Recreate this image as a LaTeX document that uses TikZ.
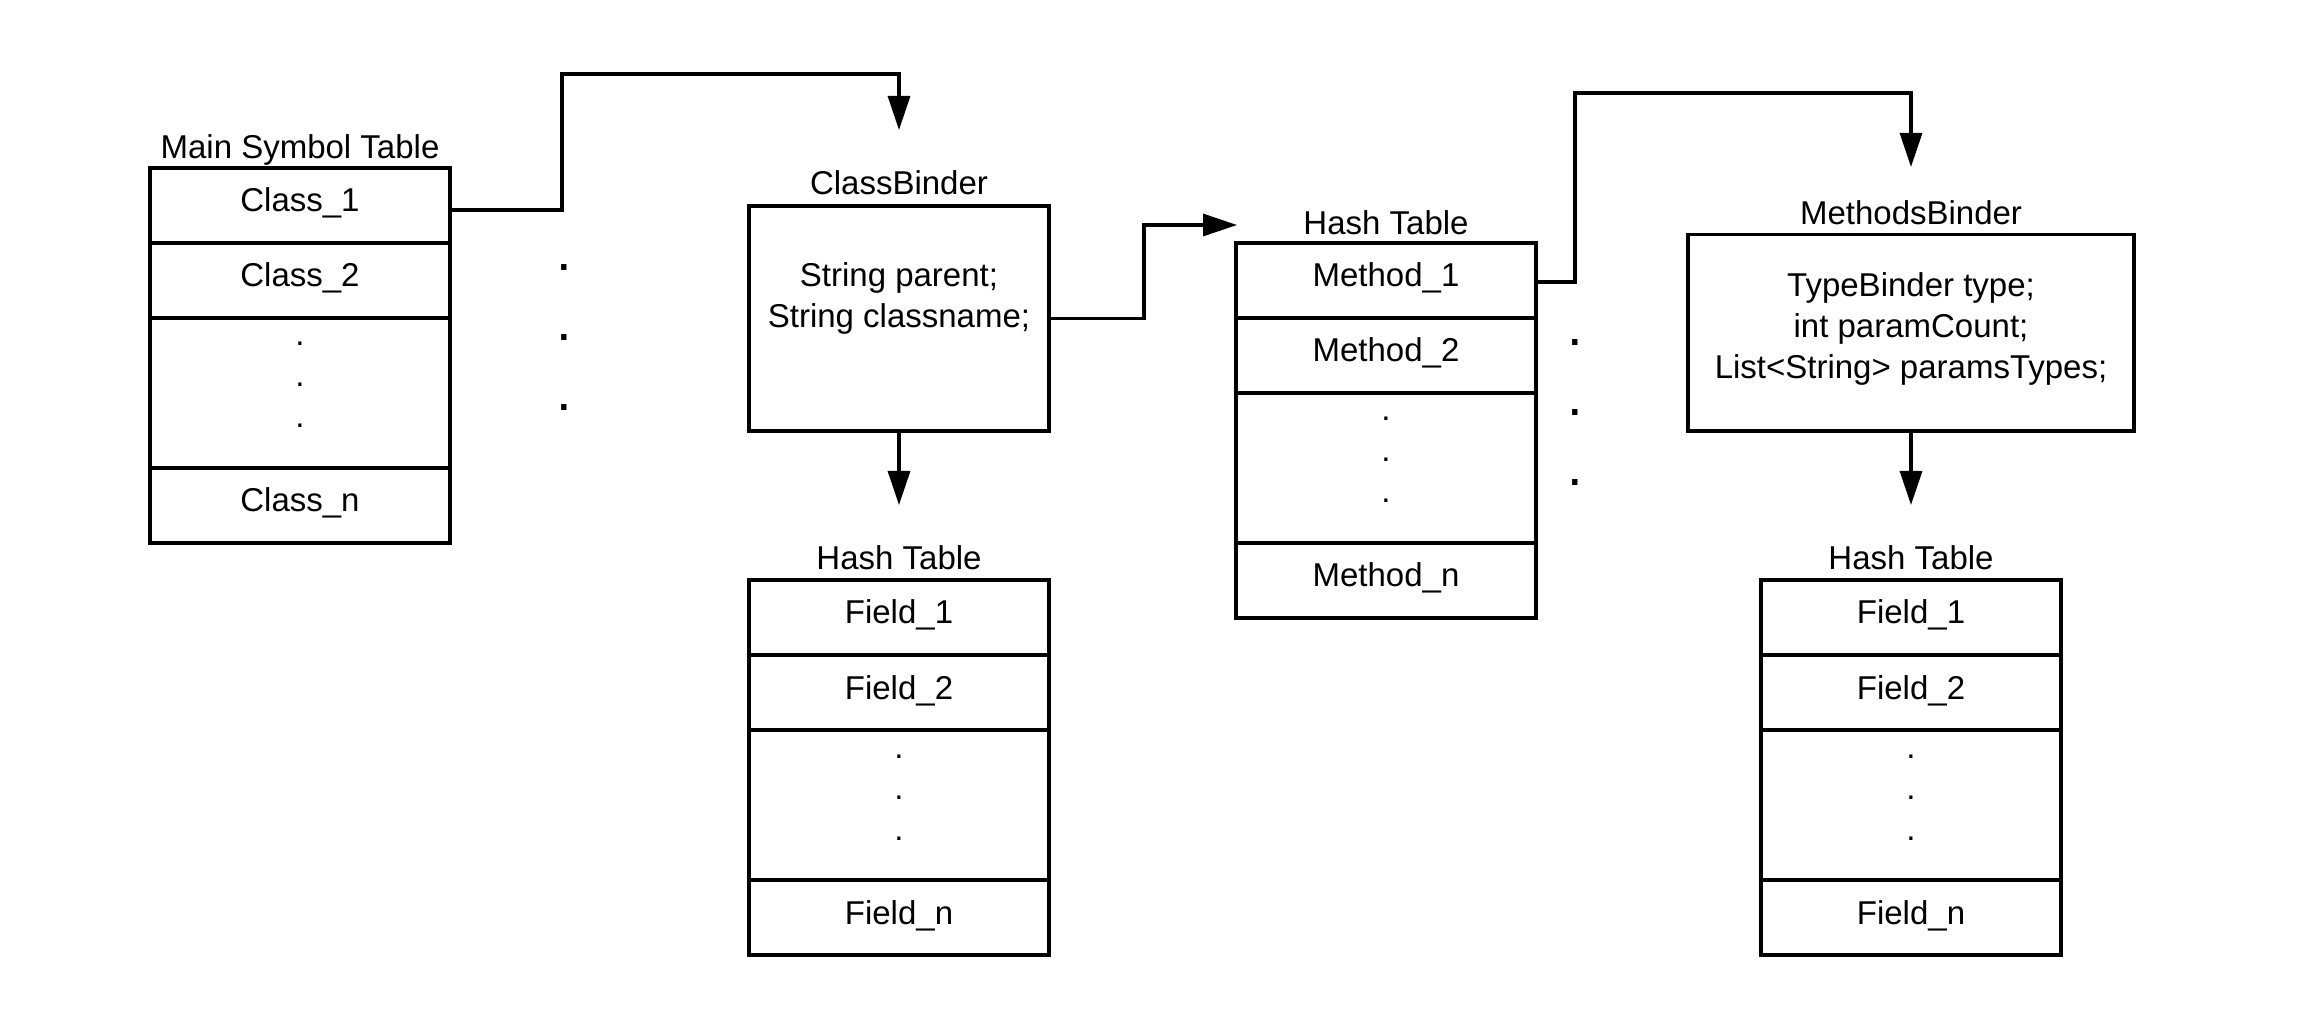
\documentclass[tikz,border=0pt]{standalone}
\usepackage{fontspec}
\setmainfont{Liberation Sans}
\usetikzlibrary{arrows.meta}
\begin{document}
\begin{tikzpicture}[x=0.5pt,y=-0.5pt,
  every node/.style={inner sep=0pt,outer sep=0pt},
  txt/.style={font=\fontsize{16.5}{20.5}\selectfont},
  cell/.style={draw,line width=1.65pt,minimum width=150pt,minimum height=37.5pt,txt,text height=10pt,text depth=3.5pt},
  gapcell/.style={draw,line width=1.65pt,minimum width=150pt,minimum height=75pt},
  lbl/.style={txt,anchor=base},
  bigdots/.style={font=\fontsize{28}{35}\selectfont,anchor=base},
  binder/.style={draw,line width=1.65pt},
  conn/.style={line width=1.6pt,-{Triangle[length=17pt,width=11pt]}}
]
\useasboundingbox (0,0) rectangle (2323,1031);

% Main symbol table
\node[lbl] (mainlbl) at (300,159) {Main Symbol Table};
\node[cell] (m1) at (300,205.5) {Class\_1};
\node[cell] (m2) at (300,280.5) {Class\_2};
\node[gapcell] (mg) at (300,393) {};
\node[lbl] (mdots) at (300,346) {\begin{tabular}[t]{@{}c@{}}.\\.\\.\end{tabular}};
\node[cell] (mn) at (300,505.5) {Class\_n};

\node[bigdots] (odots1) at (564,271) {\begin{tabular}[t]{@{}c@{}}.\\.\\.\end{tabular}};

% ClassBinder
\node[lbl] (cblbl) at (899,195) {ClassBinder};
\node[binder,minimum width=150pt,minimum height=112.5pt] (cb) at (899,318.5) {};
\node[lbl] (cbtxt) at (899,287) {\begin{tabular}[t]{@{}c@{}}String parent;\\String classname;\end{tabular}};

% Field hash table (left)
\node[lbl] (f1lbl) at (899,570) {Hash Table};
\node[cell] (fa1) at (899,617.5) {Field\_1};
\node[cell] (fa2) at (899,692.5) {Field\_2};
\node[gapcell] (fag) at (899,805) {};
\node[lbl] (fadots) at (899,758) {\begin{tabular}[t]{@{}c@{}}.\\.\\.\end{tabular}};
\node[cell] (fan) at (899,917.5) {Field\_n};

% Method hash table
\node[lbl] (mtlbl) at (1386,235) {Hash Table};
\node[cell] (t1) at (1386,280.5) {Method\_1};
\node[cell] (t2) at (1386,355.5) {Method\_2};
\node[gapcell] (tg) at (1386,468) {};
\node[lbl] (tdots) at (1386,421) {\begin{tabular}[t]{@{}c@{}}.\\.\\.\end{tabular}};
\node[cell] (tn) at (1386,580.5) {Method\_n};

\node[bigdots] (odots2) at (1575,346) {\begin{tabular}[t]{@{}c@{}}.\\.\\.\end{tabular}};

% MethodsBinder
\node[lbl] (mblbl) at (1911,225) {MethodsBinder};
\node[binder,minimum width=223pt,minimum height=98.25pt] (mb) at (1911,332.75) {};
\node[lbl] (mbtxt) at (1911,297) {\begin{tabular}[t]{@{}c@{}}TypeBinder type;\\int paramCount;\\List<String> paramsTypes;\end{tabular}};

% Field hash table (right)
\node[lbl] (f2lbl) at (1911,570) {Hash Table};
\node[cell] (fb1) at (1911,617.5) {Field\_1};
\node[cell] (fb2) at (1911,692.5) {Field\_2};
\node[gapcell] (fbg) at (1911,805) {};
\node[lbl] (fbdots) at (1911,758) {\begin{tabular}[t]{@{}c@{}}.\\.\\.\end{tabular}};
\node[cell] (fbn) at (1911,917.5) {Field\_n};

% connector end points
\coordinate (cbIn) at (899,130);
\coordinate (mtIn) at (1237,225);
\coordinate (mbIn) at (1911,167);
\coordinate (faIn) at (899,505);
\coordinate (fbIn) at (1911,505);

\draw[conn] ([yshift=-2.25pt]m1.east) -| (562,74) -| (cbIn);
\draw[conn] (cb.east) -| (1144,225) -- (mtIn);
\draw[conn] ([yshift=-0.75pt]t1.east) -| (1575,93) -| (mbIn);
\draw[conn] (cb.south) -- (faIn);
\draw[conn] (mb.south) -- (fbIn);
\end{tikzpicture}
\end{document}
